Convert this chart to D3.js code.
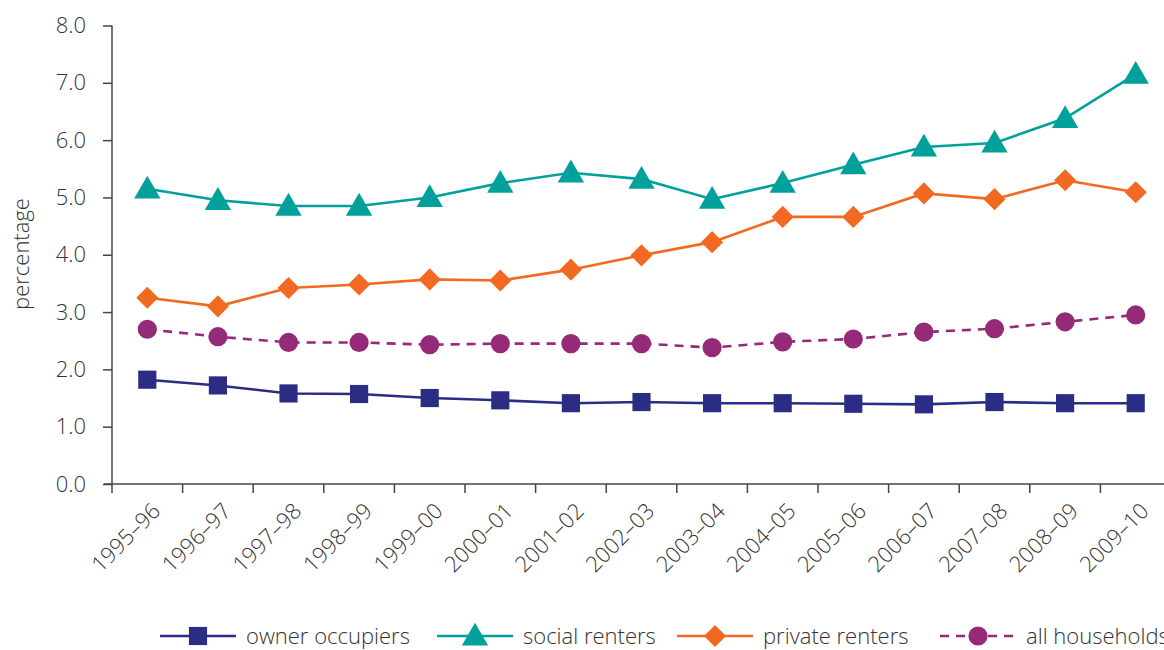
<!DOCTYPE html>
<html><head><meta charset="utf-8">
<script src="https://cdn.jsdelivr.net/npm/d3@7"></script>
<style>body{margin:0;background:#fff;} text{font-family:"Open Sans","Noto Sans",sans-serif;fill:#333;font-weight:300;}</style>
</head><body><svg id="c" width="1164" height="650"></svg>
<script>
const categories = ["1995–96","1996–97","1997–98","1998–99","1999–00","2000–01","2001–02","2002–03","2003–04","2004–05","2005–06","2006–07","2007–08","2008–09","2009–10"];
const ownerOccupiers = [1.82,1.72,1.58,1.57,1.50,1.46,1.41,1.43,1.41,1.41,1.40,1.39,1.43,1.41,1.41];
const socialRenters = [5.15,4.95,4.85,4.85,5.00,5.25,5.43,5.32,4.97,5.25,5.57,5.88,5.95,6.38,7.15];
const privateRenters = [3.25,3.10,3.42,3.48,3.57,3.55,3.74,3.99,4.22,4.66,4.66,5.07,4.97,5.30,5.09];
const allHouseholds = [2.70,2.57,2.47,2.47,2.43,2.45,2.45,2.45,2.38,2.48,2.53,2.65,2.71,2.83,2.95];
const yTicks = [0,1,2,3,4,5,6,7,8];
const seriesNames = ["owner occupiers","social renters","private renters","all households"];

const series = [
  {name:seriesNames[0], values:ownerOccupiers, color:"#2b2d84", sym:d3.symbolSquare, size:330, rot:0, dy:0, dash:null},
  {name:seriesNames[1], values:socialRenters, color:"#00a19a", sym:d3.symbolTriangle, size:300, rot:0, dy:2, dash:null},
  {name:seriesNames[2], values:privateRenters, color:"#f26a21", sym:d3.symbolSquare, size:245, rot:45, dy:0, dash:null},
  {name:seriesNames[3], values:allHouseholds, color:"#952a78", sym:d3.symbolCircle, size:290, rot:0, dy:0, dash:"9,7"}
];

const svg = d3.select("#c");
const x = d3.scaleBand().domain(categories).range([112, 1171]);
const y = d3.scaleLinear().domain([0,8]).range([484, 25.5]);

// y axis
const yAxis = svg.append("g").attr("transform","translate(112,0)")
  .call(d3.axisLeft(y).tickValues(yTicks).tickFormat(d3.format(".1f")).tickSize(9).tickPadding(17));
yAxis.selectAll("text").style("font-size","22px").style("fill","#333");
yAxis.selectAll("line,path").attr("stroke","#444").attr("stroke-width",1.5);
yAxis.select("path").attr("d","M0,25.5V484");

// x axis
const xAxis = svg.append("g").attr("transform","translate(0,484)")
  .call(d3.axisBottom(x).tickSize(0).tickFormat(""));
xAxis.select("path").attr("stroke","#444").attr("stroke-width",1.5).attr("d","M104,0H1164");
const tickPos = categories.map(c => x(c));
xAxis.selectAll(".bt").data(tickPos).enter().append("line").attr("class","bt")
  .attr("x1",d=>d).attr("x2",d=>d).attr("y1",0).attr("y2",9).attr("stroke","#444").attr("stroke-width",1.5);

svg.append("g").selectAll("text").data(categories).enter().append("text")
  .attr("transform", d => `translate(${x(d)+x.bandwidth()/2+9},${507}) rotate(-45)`)
  .attr("text-anchor","end").attr("dy","0.35em").style("font-size","22px").text(d=>d);

// y label
svg.append("text").attr("transform","translate(21,254) rotate(-90)").attr("text-anchor","middle")
  .attr("dy","0.35em").style("font-size","22px").text("percentage");

const cx = i => x(categories[i]) + x.bandwidth()/2;
const line = d3.line().x((d,i)=>cx(i)).y(d=>y(d));

series.forEach(s => {
  svg.append("path").datum(s.values).attr("d", line).attr("fill","none")
    .attr("stroke", s.color).attr("stroke-width", 2.6).attr("stroke-dasharray", s.dash);
  svg.append("g").selectAll("path").data(s.values).enter().append("path")
    .attr("d", d3.symbol().type(s.sym).size(s.size))
    .attr("transform",(d,i)=>`translate(${cx(i)},${y(d) + s.dy}) rotate(${s.rot})`)
    .attr("fill", s.color);
});

// legend
const legX = [160, 437, 677, 940];
const lg = svg.append("g").attr("transform","translate(0,636)");
series.forEach((s,i) => {
  const g = lg.append("g").attr("transform",`translate(${legX[i]},0)`);
  g.append("line").attr("x1",0).attr("x2",76).attr("y1",0).attr("y2",0)
    .attr("stroke",s.color).attr("stroke-width",2.6).attr("stroke-dasharray", s.dash);
  g.append("path").attr("d", d3.symbol().type(s.sym).size(s.size))
    .attr("transform",`translate(38,${s.dy}) rotate(${s.rot})`).attr("fill",s.color);
  g.append("text").attr("x",86).attr("dy","0.35em").style("font-size","22px").text(s.name);
});
</script></body></html>
